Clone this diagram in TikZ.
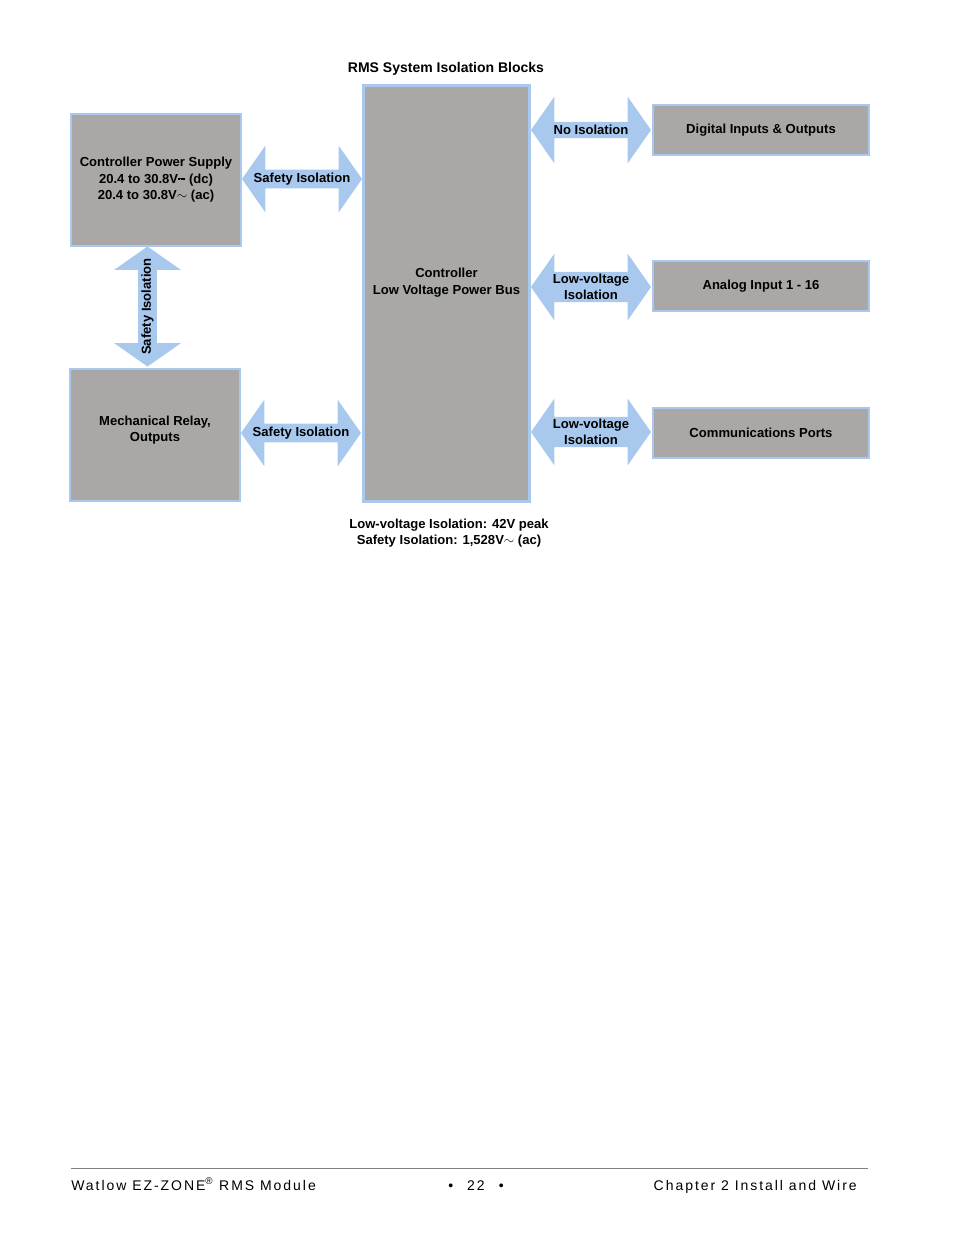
\documentclass[tikz,border=0pt]{standalone}
\usepackage{fontspec}
\setmainfont{Liberation Sans}
\usetikzlibrary{shapes.arrows, positioning}
\definecolor{blockgray}{HTML}{A9A8A6}
\definecolor{isoblue}{HTML}{A8C8EE}
\newcommand{\dcsym}{\raisebox{0.75ex}{\rule{0.55em}{0.35pt}}\kern-0.55em\raisebox{0.5ex}{\rule{0.15em}{0.35pt}\kern0.05em\rule{0.15em}{0.35pt}\kern0.05em\rule{0.15em}{0.35pt}}}
\begin{document}
\begin{tikzpicture}[x=0.75pt, y=-0.75pt, font=\fontsize{9.8}{12.4}\selectfont\bfseries]
\tikzstyle{block}=[draw=isoblue, fill=blockgray, line width=2.2pt, align=center, inner sep=0pt]
\tikzstyle{iso}=[double arrow, fill=isoblue, draw=none, align=center, inner sep=0pt,
  minimum width=50pt, minimum height=90pt, double arrow head extend=12pt, double arrow tip angle=110]
\tikzstyle{foot}=[font=\fontsize{10.5}{12}\selectfont\addfontfeature{LetterSpace=14}]
\useasboundingbox (0,0) rectangle (954,1235);
\node (title) at (446,69) {\fontsize{10.5}{12}\selectfont RMS System Isolation Blocks};
% blocks
\node[block, minimum width=127.5pt, minimum height=99pt] (PS) at (156,180) {Controller Power Supply\\20.4 to 30.8V\dcsym{} (dc)\\20.4 to 30.8V$\sim$ (ac)};
\node[block, minimum width=125pt, minimum height=312pt] (CB) at (446.5,293.5) {Controller\\Low Voltage Power Bus\\[5.6pt]\mbox{}};
\node[block, minimum width=127.5pt, minimum height=99pt] (MR) at (155,435) {Mechanical Relay,\\Outputs\\[-3pt]\mbox{}};
\node[block, minimum width=162pt, minimum height=37.5pt] (DIO) at (761,130) {Digital Inputs \& Outputs};
\node[block, minimum width=162pt, minimum height=37.5pt] (AI) at (761,286) {Analog Input 1 - 16};
\node[block, minimum width=162pt, minimum height=37.5pt] (CP) at (761,433) {Communications Ports};
% isolation arrows
\node[iso] (S1) at (302,179) {Safety Isolation};
\node[iso] (S2) at (301,433) {Safety Isolation};
\node[iso, rotate=90] (S3) at (147.5,306.5) {Safety Isolation};
\node[iso] (N1) at (591,130) {No Isolation};
\node[iso] (L1) at (591,287) {Low-voltage\\Isolation};
\node[iso] (L2) at (591,432) {Low-voltage\\Isolation};
\node[align=center] (note) at (449,533) {Low-voltage Isolation: 42V peak\\Safety Isolation: 1,528V$\sim$ (ac)};
% footer
\coordinate (fl) at (71,1168);
\coordinate (fr) at (868,1168);
\draw[gray, line width=0.6pt] (fl) -- (fr);
\node[foot, anchor=base west, inner sep=0pt] (f1) at (71,1190) {Watlow EZ-ZONE\textsuperscript{\textregistered} RMS Module};
\node[foot, anchor=base, inner sep=0pt] (f2) at (476,1190) {\textbullet\quad 22\quad \textbullet};
\node[foot, anchor=base east, inner sep=0pt] (f3) at (857,1190) {Chapter 2 Install and Wire};
\end{tikzpicture}
\end{document}
